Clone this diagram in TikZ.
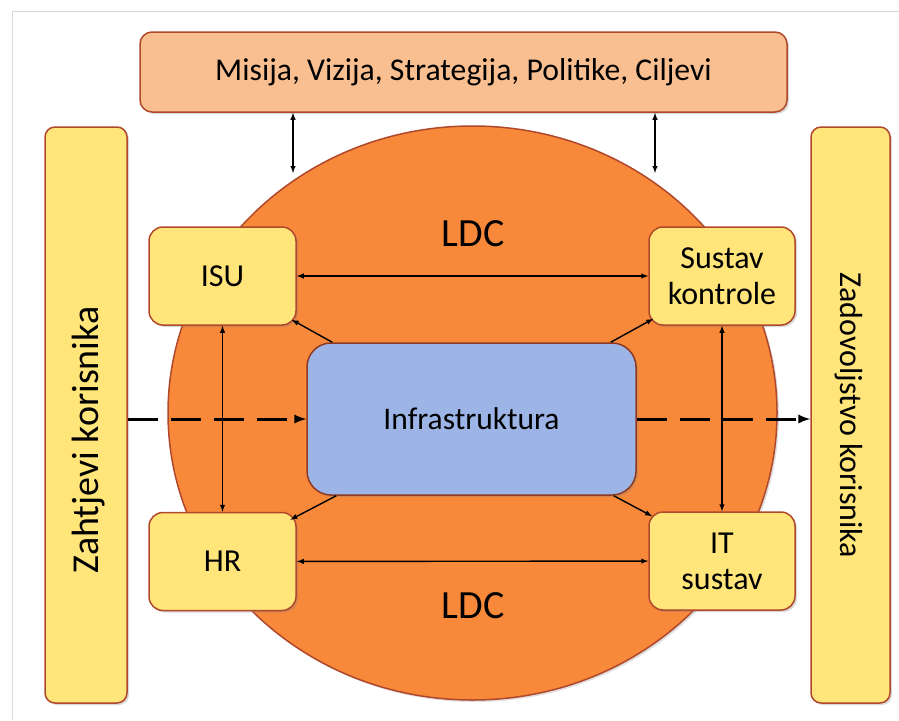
\documentclass[tikz,border=0pt]{standalone}
\usepackage{fontspec}
\setmainfont{Carlito}
\usetikzlibrary{shapes.geometric,shadows,calc}

\definecolor{peach}{HTML}{F9BF90}
\definecolor{sunny}{HTML}{FFE57A}
\definecolor{pumpkin}{HTML}{F8893A}
\definecolor{skyblue}{HTML}{9DB5E6}
\definecolor{rim}{HTML}{B0482C}

\tikzset{
  goal/.style={draw=rim,line width=1.5pt,fill=peach,rounded corners=12pt,
    minimum width=647pt,minimum height=80pt,
    drop shadow={opacity=0.3,shadow xshift=2pt,shadow yshift=-2pt}},
  side/.style={draw=rim,line width=1.5pt,fill=sunny,rounded corners=10pt,
    minimum height=576pt,drop shadow={opacity=0.3,shadow xshift=2pt,shadow yshift=-2pt}},
  unit/.style={draw=rim,line width=1.5pt,fill=sunny,rounded corners=14pt,
    minimum width=147pt,minimum height=98pt,align=center,
    font=\fontsize{32}{36}\selectfont,
    drop shadow={opacity=0.3,shadow xshift=2pt,shadow yshift=-2pt}},
  core/.style={draw=rim!80!black,line width=1.5pt,fill=skyblue,rounded corners=24pt,
    minimum width=329pt,minimum height=152pt,font=\fontsize{31.5}{36}\selectfont,
    drop shadow={opacity=0.3,shadow xshift=2pt,shadow yshift=-2pt}},
  ring/.style={ellipse,draw=rim,line width=1.5pt,fill=pumpkin,inner sep=0pt,
    minimum width=609pt,minimum height=574pt,
    drop shadow={opacity=0.25,shadow xshift=2pt,shadow yshift=-2pt}},
  link/.style={line width=1.4pt,>=latex},
  flow/.style={line width=3pt,dash pattern=on 30pt off 13pt,>=latex}
}

\begin{document}
\begin{tikzpicture}[x=1pt,y=-1pt]
  \useasboundingbox (0,0) rectangle (899,720);
  % screenshot frame
  \draw[black!15,line width=1pt] (12,720) -- (12,11) -- (899,11);

  \node[ring] (ldc) at (472.5,413) {};
  \node[goal,font=\fontsize{31.7}{36}\selectfont] (misija) at (463.5,72)
    {Misija, Vizija, Strategija, Politike, Ciljevi};
  \node[side,minimum width=82pt] (zahtjevi) at (86,415) {};
  \node[rotate=90,font=\fontsize{38}{42}\selectfont] (zahtjeviText) at (89,440) {Zahtjevi korisnika};
  \node[side,minimum width=79pt] (zadovoljstvo) at (850.5,415) {};
  \node[rotate=-90,font=\fontsize{32}{36}\selectfont] (zadovoljstvoText) at (849,415.5) {Zadovoljstvo korisnika};

  \node[font=\fontsize{40}{44}\selectfont] (ldcTop) at (473,234) {LDC};
  \node[font=\fontsize{40}{44}\selectfont] (ldcBottom) at (473,606) {LDC};

  \node[core] (infra) at (471.5,419) {Infrastruktura};
  \node[unit] (isu) at (222.5,276) {ISU};
  \node[unit,minimum width=146pt] (kontrola) at (722,276) {Sustav\\kontrole};
  \node[unit] (hr) at (222.5,561.5) {HR};
  \node[unit,minimum width=146pt] (it) at (722,561) {IT\\sustav};

  % mission <-> LDC
  \coordinate (leftTip) at (293,173);
  \coordinate (rightTip) at (655,173);
  \draw[link,<->] (misija.south -| leftTip) -- (leftTip);
  \draw[link,<->] (misija.south -| rightTip) -- (rightTip);

  % between the units
  \draw[link,<->] (isu) -- (kontrola);
  \draw[link,<->] (hr) -- (it);
  \draw[link,<->] (isu) -- (hr);
  \draw[link,<->] (kontrola) -- (it);

  % from the infrastructure
  \draw[link,->] ($(infra.north west)+(26,0)$) -- ($(isu.south east)+(-5,-6)$);
  \draw[link,->] ($(infra.north east)+(-26,0)$) -- ($(kontrola.south west)+(5,-7)$);
  \draw[link,->] ($(infra.south west)+(30,0)$) -- ($(hr.north west)+(142,8)$);
  \draw[link,->] ($(infra.south east)+(-23,0)$) -- ($(it.north west)+(4,5)$);

  % user requirements through to satisfaction
  \draw[flow,->] (zahtjevi.east |- infra.west) -- (infra.west);
  \draw[flow,->] (infra.east) -- (zadovoljstvo.west |- infra.east);
\end{tikzpicture}
\end{document}
